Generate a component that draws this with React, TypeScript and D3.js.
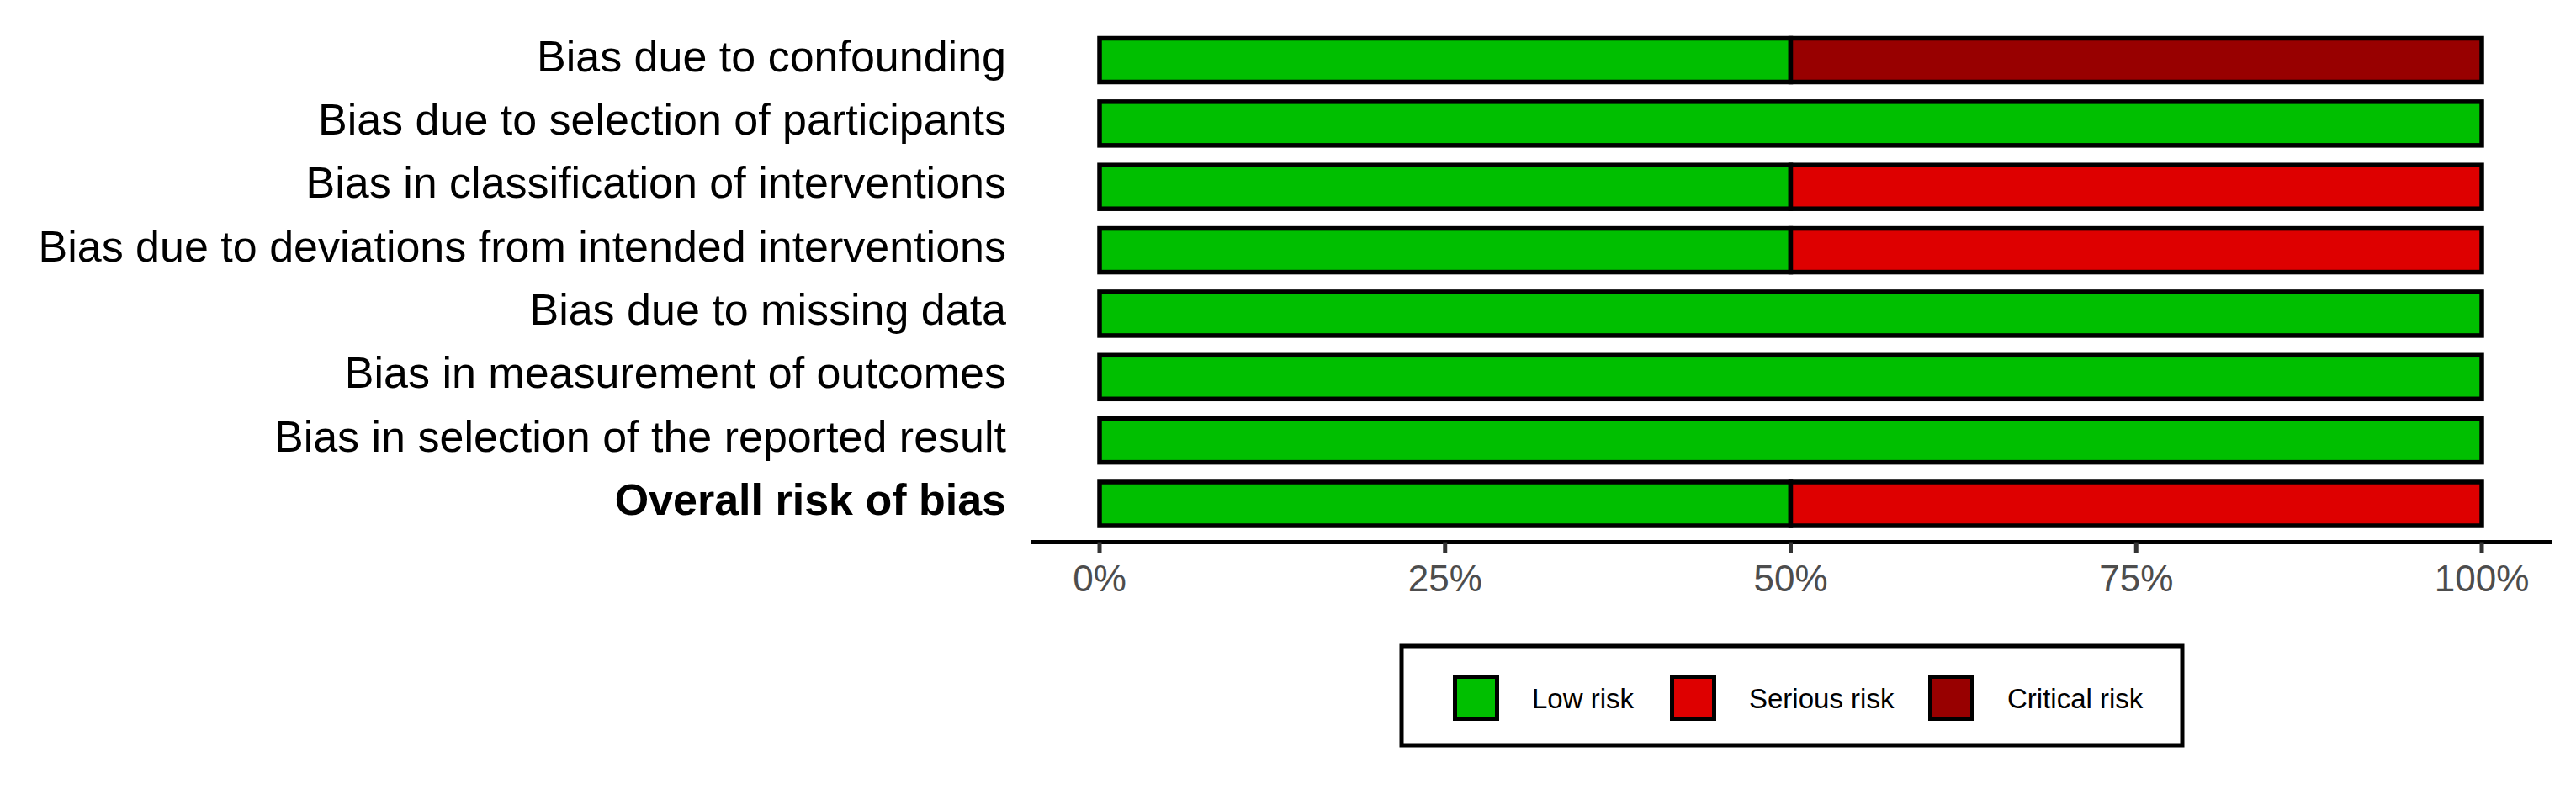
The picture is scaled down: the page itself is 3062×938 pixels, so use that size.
import React from "react";
import * as d3 from "d3";

const domains = [
  "Bias due to confounding",
  "Bias due to selection of participants",
  "Bias in classification of interventions",
  "Bias due to deviations from intended interventions",
  "Bias due to missing data",
  "Bias in measurement of outcomes",
  "Bias in selection of the reported result",
  "Overall risk of bias",
];
const lowRisk = [50, 100, 50, 50, 100, 100, 100, 50];
const seriousRisk = [0, 0, 50, 50, 0, 0, 0, 50];
const criticalRisk = [50, 0, 0, 0, 0, 0, 0, 0];
const riskKeys = ["low", "serious", "critical"];
const riskLabels = ["Low risk", "Serious risk", "Critical risk"];
const riskColors = ["#00BF00", "#DE0000", "#980000"];
const xTicks = [0, 25, 50, 75, 100];

const W = 3062;
const H = 938;
const FONT = "'Liberation Sans', Arial, Helvetica, sans-serif";

export default function App() {
  const rows = domains.map((d, i) => ({
    domain: d,
    low: lowRisk[i],
    serious: seriousRisk[i],
    critical: criticalRisk[i],
  }));
  const stack = d3.stack<any>().keys(riskKeys)(rows);

  const x = d3.scaleLinear().domain([0, 100]).range([1307, 2950]);
  const y = d3.scalePoint<string>().domain(domains).range([71.5, 599]);
  const barH = 52;
  const color = d3.scaleOrdinal<string, string>().domain(riskKeys).range(riskColors);

  const axisY = 644.5;
  const legendX = d3.scaleOrdinal<string, number>().domain(riskKeys).range([1727, 1985, 2292]);

  return (
    <svg
      width={W}
      height={H}
      style={{ position: "absolute", left: 0, top: 0, display: "block", background: "#fff" }}
      fontFamily={FONT}
    >
      <rect x={0} y={0} width={W} height={H} fill="#fff" />
      {/* bars */}
      {stack.map((layer) => (
        <g key={layer.key}>
          {layer.map((seg, i) =>
            seg[1] - seg[0] > 0 ? (
              <rect
                key={i}
                x={x(seg[0])}
                y={(y(domains[i]) as number) - barH / 2}
                width={x(seg[1]) - x(seg[0])}
                height={barH}
                fill={color(layer.key)}
                stroke="#000"
                strokeWidth={5.5}
              />
            ) : null
          )}
        </g>
      ))}
      {/* y labels */}
      {domains.map((d, i) => (
        <text
          key={d}
          x={1196}
          y={(y(d) as number) + 13}
          textAnchor="end"
          fontSize={52}
          fontWeight={i === domains.length - 1 ? "bold" : "normal"}
          fill="#000"
        >
          {d}
        </text>
      ))}
      {/* x axis */}
      <line x1={1225} x2={3033} y1={axisY} y2={axisY} stroke="#000" strokeWidth={5} />
      {xTicks.map((t) => (
        <g key={t}>
          <line x1={x(t)} x2={x(t)} y1={axisY} y2={657} stroke="#333" strokeWidth={5} />
          <text x={x(t)} y={703} textAnchor="middle" fontSize={44} fill="#4D4D4D">
            {t + "%"}
          </text>
        </g>
      ))}
      {/* legend */}
      <rect x={1666} y={768} width={928} height={118} fill="#fff" stroke="#000" strokeWidth={5} />
      {riskKeys.map((k, i) => (
        <g key={k}>
          <rect
            x={legendX(k) + 2.5}
            y={804.5}
            width={50}
            height={50}
            fill={riskColors[i]}
            stroke="#000"
            strokeWidth={5}
          />
          <text x={legendX(k) + 94} y={842} fontSize={33} fill="#000">
            {riskLabels[i]}
          </text>
        </g>
      ))}
    </svg>
  );
}
